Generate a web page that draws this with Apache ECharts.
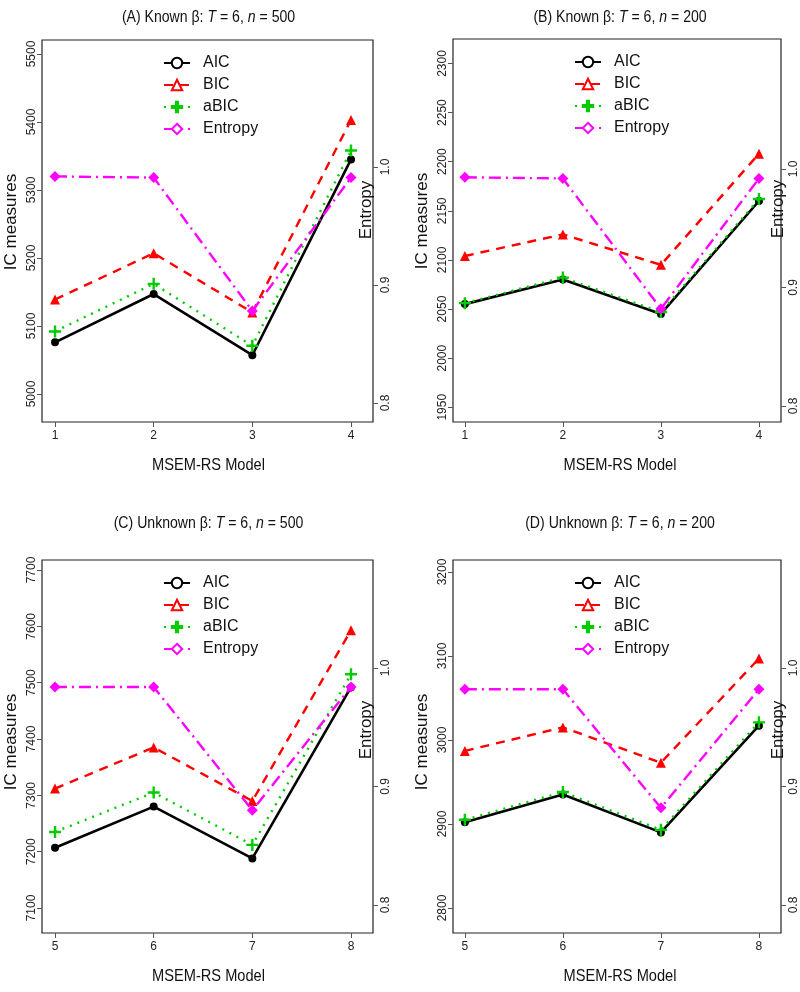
<!DOCTYPE html>
<html><head><meta charset="utf-8">
<script src="https://cdn.jsdelivr.net/npm/echarts@6/dist/echarts.min.js"></script>
<style>html,body{margin:0;padding:0;background:#fff}#c{width:800px;height:992px}</style>
</head><body><div id="c"></div>
<script>
// ---- data ----
const modelsTop = [1, 2, 3, 4];
const modelsBottom = [5, 6, 7, 8];
const seriesNames = ['AIC', 'BIC', 'aBIC', 'Entropy'];

const A_AIC = [5076, 5147, 5057, 5345];
const A_BIC = [5139, 5207, 5120, 5403];
const A_aBIC = [5092, 5162, 5071, 5358];
const A_Entropy = [0.992, 0.991, 0.878, 0.991];

const B_AIC = [2055, 2080, 2045, 2160];
const B_BIC = [2104, 2126, 2095, 2208];
const B_aBIC = [2056, 2082, 2047, 2162];
const B_Entropy = [0.993, 0.992, 0.882, 0.992];

const C_AIC = [7207, 7280, 7188, 7492];
const C_BIC = [7312, 7385, 7290, 7593];
const C_aBIC = [7235, 7305, 7212, 7515];
const C_Entropy = [0.984, 0.984, 0.880, 0.984];

const D_AIC = [2902, 2935, 2890, 3017];
const D_BIC = [2987, 3015, 2973, 3097];
const D_aBIC = [2905, 2938, 2893, 3021];
const D_Entropy = [0.982, 0.982, 0.882, 0.982];

const ticksA = [5000, 5100, 5200, 5300, 5400, 5500];
const ticksB = [1950, 2000, 2050, 2100, 2150, 2200, 2250, 2300];
const ticksC = [7100, 7200, 7300, 7400, 7500, 7600, 7700];
const ticksD = [2800, 2900, 3000, 3100, 3200];
const entropyTicks = [0.8, 0.9, 1.0];

const titleA = '(A) Known β: {i|T} = 6, {i|n} = 500';
const titleB = '(B) Known β: {i|T} = 6, {i|n} = 200';
const titleC = '(C) Unknown β: {i|T} = 6, {i|n} = 500';
const titleD = '(D) Unknown β: {i|T} = 6, {i|n} = 200';
const xTitle = 'MSEM-RS Model';
const yTitle = 'IC measures';
const y2Title = 'Entropy';

// ---- layout ----
const FONT = "'Liberation Sans', Arial, sans-serif";
const panels = [
  {x: modelsTop, d: [A_AIC, A_BIC, A_aBIC, A_Entropy], ticks: ticksA, title: titleA,
   grid: {left: 42, top: 40, width: 331, height: 382}, y: [4958.8, 5520.6], e: [0.7839, 1.1076], xr: [0.868, 4.223]},
  {x: modelsTop, d: [B_AIC, B_BIC, B_aBIC, B_Entropy], ticks: ticksB, title: titleB,
   grid: {left: 453, top: 39, width: 332, height: 383}, y: [1935.0, 2324.9], e: [0.7865, 1.1097], xr: [0.879, 4.225]},
  {x: modelsBottom, d: [C_AIC, C_BIC, C_aBIC, C_Entropy], ticks: ticksC, title: titleC,
   grid: {left: 42, top: 560, width: 331, height: 373}, y: [7055.6, 7717.8], e: [0.7764, 1.0911], xr: [4.868, 8.223]},
  {x: modelsBottom, d: [D_AIC, D_BIC, D_aBIC, D_Entropy], ticks: ticksD, title: titleD,
   grid: {left: 453, top: 560, width: 332, height: 373}, y: [2770.2, 3214.3], e: [0.7764, 1.0911], xr: [4.879, 8.225]}
];

const PLUS = 'path://M4,0 L6,0 L6,4 L10,4 L10,6 L6,6 L6,10 L4,10 L4,6 L0,6 L0,4 L4,4 Z';
const styles = [
  {color: '#000000', type: 'solid', symbol: 'circle', size: 8, width: 2.6},
  {color: '#FF0000', type: [9, 7], symbol: 'triangle', size: 10, width: 2.4},
  {color: '#00CC00', type: [2, 6], symbol: PLUS, size: 12, width: 2.4},
  {color: '#FF00FF', type: [12, 5, 2, 5], symbol: 'diamond', size: 11, width: 2.4}
];

const grids = [], xAxes = [], yAxes = [], series = [], legends = [], graphics = [];
panels.forEach((p, i) => {
  grids.push(Object.assign({show: true, borderColor: '#222', borderWidth: 1.2, backgroundColor: 'transparent'}, p.grid));
  xAxes.push({type: 'value', gridIndex: i, min: p.xr[0], max: p.xr[1], position: 'bottom',
    splitLine: {show: false}, axisLine: {show: false},
    axisTick: {show: true, length: 5, customValues: p.x, lineStyle: {color: '#555'}},
    axisLabel: {customValues: p.x, color: '#222', fontSize: 12, margin: 8, fontFamily: FONT,
      formatter: v => String(v)}});
  yAxes.push({type: 'value', gridIndex: i, position: 'left', min: p.y[0], max: p.y[1],
    splitLine: {show: false}, axisLine: {show: false},
    axisTick: {show: true, length: 5, customValues: p.ticks, lineStyle: {color: '#555'}},
    axisLabel: {customValues: p.ticks, rotate: 90, color: '#222', fontSize: 12, margin: 4, fontFamily: FONT,
      formatter: v => String(Math.round(v))}});
  yAxes.push({type: 'value', gridIndex: i, position: 'right', min: p.e[0], max: p.e[1],
    splitLine: {show: false}, axisLine: {show: false},
    axisTick: {show: true, length: 5, customValues: entropyTicks, lineStyle: {color: '#555'}},
    axisLabel: {customValues: entropyTicks, rotate: 90, color: '#222', fontSize: 12, margin: 7, fontFamily: FONT,
      formatter: v => Number(v).toFixed(1)}});
  seriesNames.forEach((nm, k) => {
    const s = styles[k];
    series.push({type: 'line', name: nm, xAxisIndex: i, yAxisIndex: 2 * i + (k === 3 ? 1 : 0),
      data: p.x.map((xv, j) => [xv, p.d[k][j]]),
      symbol: s.symbol, symbolSize: s.size, showSymbol: true,
      lineStyle: {color: s.color, width: s.width, type: s.type},
      itemStyle: {color: s.color}, z: 2 + k, animation: false, silent: true});
  });
  legends.push({orient: 'vertical', left: p.grid.left + 116, top: p.grid.top + 10, itemWidth: 26, itemHeight: 13, itemGap: 6,
    selectedMode: false, textStyle: {fontSize: 16, color: '#111', fontFamily: FONT, padding: [0, 0, 0, 8]},
    data: seriesNames.map((nm, k) => ({name: nm, itemStyle: {color: '#fff', borderColor: styles[k].color, borderWidth: 2}}))});
  const cx = p.grid.left + p.grid.width / 2 + 1;
  graphics.push({type: 'text', x: cx, y: i < 2 ? 18 : 524, scaleX: 0.88,
    style: {text: p.title, align: 'center', verticalAlign: 'middle', font: '16px ' + FONT, fill: '#111',
      rich: {i: {fontStyle: 'italic', fontSize: 16, fontFamily: FONT}}}});
  graphics.push({type: 'text', x: cx, y: p.grid.top + p.grid.height + 43, scaleX: 0.86,
    style: {text: xTitle, align: 'center', verticalAlign: 'middle', font: '17px ' + FONT, fill: '#111'}});
  graphics.push({type: 'text', x: p.grid.left - 31, y: p.grid.top + 182, rotation: Math.PI / 2,
    style: {text: yTitle, align: 'center', verticalAlign: 'middle', font: '17px ' + FONT, fill: '#111'}});
  graphics.push({type: 'text', x: p.grid.left + p.grid.width - 7, y: p.grid.top + 170, rotation: Math.PI / 2,
    style: {text: y2Title, align: 'center', verticalAlign: 'middle', font: '17px ' + FONT, fill: '#111'}});
});

const chart = echarts.init(document.getElementById('c'), null, {renderer: 'canvas'});
chart.setOption({
  animation: false, backgroundColor: '#fff',
  grid: grids, xAxis: xAxes, yAxis: yAxes, series: series, legend: legends, graphic: graphics
});
</script></body></html>
